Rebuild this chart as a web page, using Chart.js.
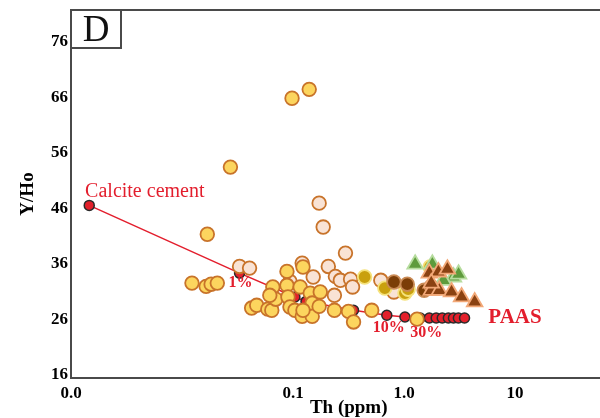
<!DOCTYPE html>
<html>
<head>
<meta charset="utf-8">
<script src="https://cdn.jsdelivr.net/npm/chart.js@4.4.0/dist/chart.umd.min.js"></script>
<style>
  html, body { margin: 0; padding: 0; background: #fff; }
  #wrap { width: 600px; height: 418px; }
</style>
</head>
<body>
<div id="wrap"><canvas id="myChart" width="600" height="418"></canvas></div>
<script>
// data [Th (ppm), Y/Ho]
const yellowSamples = [
  [0.098, 65.8], [0.14, 67.4], [0.0273, 53.4], [0.0169, 41.3], [0.0123, 32.5],
  [0.0165, 31.9], [0.0183, 32.3], [0.0208, 32.5], [0.0424, 28.0], [0.0471, 28.5],
  [0.0593, 27.8], [0.0644, 27.6], [0.0658, 31.8], [0.070, 29.6], [0.0882, 34.6],
  [0.0882, 32.1], [0.090, 30.0], [0.0939, 28.2], [0.104, 27.6], [0.116, 31.8],
  [0.121, 26.5], [0.123, 35.4], [0.143, 30.7], [0.149, 28.9], [0.149, 26.5],
  [0.123, 27.6], [0.176, 30.9], [0.172, 28.3], [0.236, 27.6], [0.316, 27.4],
  [0.351, 25.5], [0.512, 27.6], [1.31, 26.0], [0.0618, 30.3]
];
const pinkSamples = [
  [0.172, 46.9], [0.187, 42.6], [0.033, 35.5], [0.0406, 35.2], [0.0939, 32.8],
  [0.121, 36.1], [0.152, 33.6], [0.208, 35.5], [0.236, 30.3], [0.241, 33.7],
  [0.267, 33.0], [0.297, 37.9], [0.330, 33.2], [0.344, 31.8], [0.618, 33.0],
  [0.811, 30.9]
];
const oliveSamples = [[0.442, 33.6], [0.672, 31.6], [1.02, 30.7], [1.09, 31.4], [1.72, 35.4]];
const brownSamples = [[0.811, 32.7], [1.07, 32.3], [1.52, 31.2], [1.76, 31.9]];
const brownTriSamples = [
  [1.69, 34.3], [2.04, 34.5], [2.46, 35.0], [1.76, 31.2], [2.08, 31.2],
  [2.68, 30.9], [3.30, 30.0], [4.33, 29.1], [1.76, 32.5]
];
const greenTriSamples = [[1.26, 35.9], [1.80, 35.9], [2.79, 33.6], [3.10, 34.1], [2.26, 33.0]];

// calcite cement - PAAS mixing line
const mixTh  = [0.00146, 0.033, 0.104, 0.131, 0.351, 0.70, 1.02, 1.40, 1.69, 1.95, 2.21, 2.51, 2.79, 3.09, 3.51];
const mixYHo = [46.5, 34.3, 30.0, 29.2, 27.6, 26.7, 26.4, 26.2, 26.2, 26.2, 26.2, 26.2, 26.2, 26.2, 26.2];

// labels on the plot
const noteText = ['Calcite cement', '1%', '10%', '30%', 'PAAS'];
const noteTh   = [0.00134, 0.0337, 0.73, 1.585, 10];
const noteYHo  = [48.9, 32.5, 24.4, 23.5, 26.2];

// axis ticks
const xTicks = [0.001, 0.1, 1, 10];
const xTickLabels = ['0.0', '0.1', '1.0', '10'];
const yTicks = [16, 26, 36, 46, 56, 66, 76];
const xTitle = 'Th (ppm)';

const serif = "'Liberation Serif', 'DejaVu Serif', serif";
const red = '#E31E2D';

const toPts = arr => arr.map(p => ({ x: p[0], y: p[1] }));

const circleSet = (pts, fill, edge, order) => ({
  data: toPts(pts),
  pointStyle: 'circle',
  pointRadius: 6.8,
  pointBorderWidth: 1.8,
  backgroundColor: fill,
  borderColor: edge,
  order: order
});

const triSet = (pts, fill, edge, order) => ({
  data: toPts(pts),
  pointStyle: 'triangle',
  pointRadius: 9,
  pointBorderWidth: 1.8,
  backgroundColor: fill,
  borderColor: edge,
  order: order
});

// extra drawing: top frame line, panel letter, text notes, x title
const decor = {
  id: 'decor',
  afterDatasetsDraw(chart) {
    const { ctx, chartArea, scales } = chart;
    ctx.save();
    // top frame
    ctx.strokeStyle = '#4a4a4a';
    ctx.lineWidth = 2;
    ctx.beginPath();
    ctx.moveTo(chartArea.left, chartArea.top);
    ctx.lineTo(chartArea.right, chartArea.top);
    ctx.stroke();

    // panel letter box
    ctx.fillStyle = '#fff';
    ctx.fillRect(chartArea.left, chartArea.top, 50, 38);
    ctx.strokeRect(chartArea.left, chartArea.top, 50, 38);
    ctx.fillStyle = '#111';
    ctx.font = '37px ' + serif;
    ctx.textAlign = 'center';
    ctx.textBaseline = 'middle';
    ctx.fillText('D', chartArea.left + 25, chartArea.top + 21);

    // x axis title, sits a little right of centre in the original
    ctx.fillStyle = '#000';
    ctx.font = 'bold 19px ' + serif;
    ctx.fillText(xTitle, chartArea.left + chartArea.width * 0.525, chart.height - 10);

    // notes
    ctx.fillStyle = red;
    noteText.forEach((t, i) => {
      const px = scales.x.getPixelForValue(noteTh[i]);
      const py = scales.y.getPixelForValue(noteYHo[i]);
      if (i === 0) {
        ctx.font = '20px ' + serif;
        ctx.textAlign = 'left';
      } else if (i === 4) {
        ctx.font = 'bold 21px ' + serif;
        ctx.textAlign = 'center';
      } else {
        ctx.font = 'bold 16px ' + serif;
        ctx.textAlign = 'center';
      }
      ctx.fillText(t, px, py);
    });
    ctx.restore();
  }
};

const config = {
  type: 'scatter',
  data: {
    datasets: [
      {
        data: mixTh.map((v, i) => ({ x: v, y: mixYHo[i] })),
        showLine: true,
        borderColor: red,
        borderWidth: 1.5,
        pointRadius: 5,
        pointBorderWidth: 1.5,
        pointBackgroundColor: '#E3202B',
        pointBorderColor: '#2a2a2a',
        order: 7
      },
      circleSet(pinkSamples, '#F9E3D5', '#C8732A', 6),
      circleSet(yellowSamples, '#FCD55E', '#C8732A', 5),
      circleSet(oliveSamples, '#C9A00E', '#F5E27C', 4),
      circleSet(brownSamples, '#7B3D07', '#C98A55', 3),
      triSet(greenTriSamples, '#5E9B3C', '#B6DC9E', 2),
      triSet(brownTriSamples, '#8A4212', '#F2A877', 1)
    ]
  },
  options: {
    responsive: false,
    animation: false,
    layout: { autoPadding: false, padding: { top: 10, right: 0, bottom: 0, left: 0 } },
    plugins: {
      legend: { display: false },
      tooltip: { enabled: false }
    },
    scales: {
      x: {
        type: 'logarithmic',
        min: 0.001,
        max: 58.3,
        grid: { display: false, drawTicks: false },
        border: { display: true, color: '#4a4a4a', width: 2 },
        afterBuildTicks: scale => { scale.ticks = xTicks.map(v => ({ value: v })); },
        afterFit: scale => {
          scale.height = 40;
          scale.paddingLeft = 0;
          scale.paddingRight = 0;
        },
        ticks: {
          autoSkip: false,
          maxRotation: 0,
          padding: 5,
          color: '#000',
          font: { family: serif, weight: 'bold', size: 17 },
          callback: v => xTickLabels[xTicks.indexOf(v)]
        },
        title: { display: false }
      },
      y: {
        min: 15.4,
        max: 81.7,
        grid: { display: false, drawTicks: false },
        border: { display: true, color: '#4a4a4a', width: 2 },
        afterBuildTicks: scale => { scale.ticks = yTicks.map(v => ({ value: v })); },
        afterFit: scale => {
          scale.width = 71;
          scale.paddingTop = 0;
          scale.paddingBottom = 0;
        },
        ticks: {
          padding: 3,
          color: '#000',
          font: { family: serif, weight: 'bold', size: 17 }
        },
        title: {
          display: true,
          text: 'Y/Ho',
          color: '#000',
          font: { family: serif, weight: 'bold', size: 19 },
          padding: { top: 17, bottom: 0 }
        }
      }
    }
  },
  plugins: [decor]
};

const myChart = new Chart(document.getElementById('myChart'), config);
</script>
</body>
</html>
